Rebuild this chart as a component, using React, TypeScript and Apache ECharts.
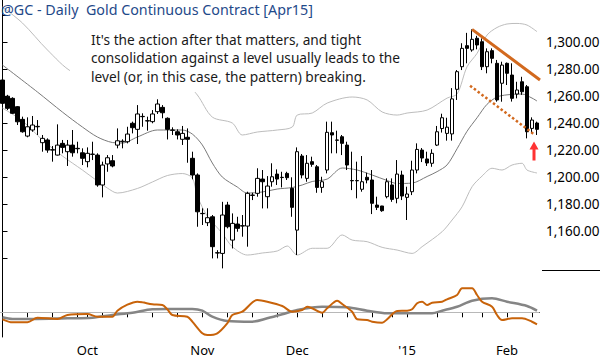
import { useEffect, useRef } from "react";
import * as echarts from "echarts";

// ---- trading days (categories) ----
const sepDays = [8, 9, 10, 11, 12, 15, 16, 17, 18, 19, 22, 23, 24, 25, 26, 29, 30];
const octDays = [1, 2, 3, 6, 7, 8, 9, 10, 13, 14, 15, 16, 17, 20, 21, 22, 23, 24, 27, 28, 29, 30, 31];
const novDays = [3, 4, 5, 6, 7, 10, 11, 12, 13, 14, 17, 18, 19, 20, 21, 24, 25, 26, 28];
const decDays = [1, 2, 3, 4, 5, 8, 9, 10, 11, 12, 15, 16, 17, 18, 19, 22, 23, 24, 26, 29, 30, 31];
const janDays = [2, 5, 6, 7, 8, 9, 12, 13, 14, 15, 16, 20, 21, 22, 23, 26, 27, 28, 29, 30];
const febDays = [2, 3, 4, 5, 6, 9, 10];
const monthDays: [string, number[]][] = [
  ["2014-09", sepDays],
  ["2014-10", octDays],
  ["2014-11", novDays],
  ["2014-12", decDays],
  ["2015-01", janDays],
  ["2015-02", febDays],
];
const dates: string[] = monthDays.flatMap(([m, ds]) =>
  ds.map((d) => `${m}-${String(d).padStart(2, "0")}`)
);

// x-axis labels (first trading day of month) and weekly tick marks
const monthLabels: Record<string, string> = {
  "2014-10-01": "Oct",
  "2014-11-03": "Nov",
  "2014-12-01": "Dec",
  "2015-01-02": "'15",
  "2015-02-02": "Feb",
};
const weekTickDates = [
  "2014-09-08", "2014-09-15", "2014-09-22", "2014-09-29", "2014-10-06", "2014-10-13",
  "2014-10-20", "2014-10-27", "2014-11-03", "2014-11-10", "2014-11-17", "2014-11-24",
  "2014-12-01", "2014-12-08", "2014-12-15", "2014-12-22", "2014-12-29", "2015-01-12",
  "2015-01-20", "2015-01-26", "2015-02-02", "2015-02-09",
];

// price axis: visible range and labels that are not printed
const priceMin = 1132.4;
const priceMax = 1331.4;
const priceStep = 20;
const hiddenPriceLabels = [1140, 1320];

// ---- OHLC: [open, close, low, high] ----
const ohlc: number[][] = [
  [1272, 1254.7, 1253, 1274],
  [1260, 1251, 1249.7, 1261],
  [1258.4, 1247.3, 1246.8, 1259.2],
  [1252.2, 1241, 1238.6, 1252.7],
  [1242.8, 1233.6, 1232.9, 1244.8],
  [1230.4, 1237.3, 1229.5, 1244.3],
  [1234.9, 1238.6, 1233.6, 1245.3],
  [1237.3, 1237.6, 1231.2, 1242.3],
  [1225.5, 1228.7, 1218.8, 1231.2],
  [1227.5, 1220, 1218, 1228.7],
  [1220, 1220.3, 1211.4, 1223],
  [1216.3, 1223.7, 1216, 1239.1],
  [1225, 1222, 1217.6, 1227.5],
  [1218.8, 1223.7, 1208.2, 1227.5],
  [1223.7, 1218, 1215.1, 1234.9],
  [1221.3, 1221, 1217.6, 1226.2],
  [1218, 1213.9, 1208.9, 1221.3],
  [1211.4, 1217.6, 1207.2, 1222],
  [1216.8, 1217, 1212.6, 1226.2],
  [1216.3, 1194.1, 1192.8, 1217.6],
  [1194.1, 1208.9, 1184.9, 1211.4],
  [1209.7, 1214.3, 1203.9, 1216.3],
  [1212.1, 1208.2, 1207.2, 1216.3],
  [1223.7, 1226.9, 1221.3, 1236.1],
  [1226.2, 1226.6, 1221.3, 1228],
  [1226.2, 1231.9, 1225, 1237.3],
  [1239.9, 1236.6, 1232.4, 1241.1],
  [1235.4, 1246.8, 1224.5, 1253.4],
  [1244.8, 1245, 1237.3, 1247.3],
  [1241.8, 1241.6, 1234.4, 1244.8],
  [1241.1, 1246.8, 1239.9, 1249.7],
  [1248.5, 1254.2, 1246.8, 1257.7],
  [1251.7, 1247.7, 1243.6, 1253.4],
  [1243.6, 1235.4, 1227.9, 1244.3],
  [1234.9, 1234.7, 1231.2, 1236.9],
  [1233.6, 1231.2, 1227.9, 1235.4],
  [1228, 1232.4, 1223.8, 1237.9],
  [1229.5, 1228, 1210.6, 1236.1],
  [1213.9, 1201.5, 1198.3, 1218.8],
  [1201.5, 1174.2, 1163.1, 1202.7],
  [1173, 1172.8, 1164.4, 1176.8],
  [1166.1, 1169.8, 1163.6, 1176.8],
  [1170.5, 1148.3, 1139.6, 1171.8],
  [1143.8, 1143.6, 1139.6, 1145.7],
  [1143.3, 1171.8, 1132.2, 1181.6],
  [1179.2, 1163.1, 1161.9, 1181.6],
  [1153.2, 1165.6, 1147, 1173],
  [1165.1, 1161.9, 1159.4, 1170.5],
  [1163.6, 1163.9, 1155.7, 1171.8],
  [1163.6, 1187.9, 1148.3, 1189.1],
  [1186.6, 1186.4, 1182.9, 1188.3],
  [1187.9, 1199, 1185.4, 1206.5],
  [1198.5, 1196.5, 1176.7, 1205.2],
  [1185.4, 1193.3, 1176.7, 1200.7],
  [1196.5, 1200.2, 1192.8, 1210.2],
  [1202.2, 1198.5, 1194.1, 1205.7],
  [1199.8, 1199.6, 1192.3, 1203.9],
  [1202.7, 1199.5, 1197.8, 1203.9],
  [1191.6, 1177.5, 1170.5, 1199.8],
  [1160.6, 1218.8, 1142.1, 1222],
  [1215.6, 1201.5, 1199, 1217.1],
  [1199, 1210.2, 1196.5, 1216.3],
  [1211.4, 1209.4, 1207.6, 1215.1],
  [1207.6, 1192.3, 1188.3, 1208.9],
  [1192.3, 1196.5, 1188.3, 1200.2],
  [1205.2, 1233.2, 1202.7, 1241.1],
  [1232.9, 1231.2, 1217.6, 1241.1],
  [1227.5, 1227.3, 1217.6, 1234.4],
  [1229.9, 1225, 1216.3, 1231.2],
  [1223.7, 1208.9, 1205.2, 1226.2],
  [1197.4, 1197.2, 1190.3, 1218.8],
  [1197.2, 1197.4, 1184.2, 1211.4],
  [1190.9, 1196.5, 1189.1, 1215.6],
  [1199.8, 1197.8, 1195.3, 1203.2],
  [1197.8, 1180.5, 1172.5, 1205.2],
  [1179.2, 1177.5, 1175.5, 1185.4],
  [1178.5, 1175, 1174.2, 1178.6],
  [1185.4, 1196.5, 1184.2, 1199],
  [1194.1, 1183.4, 1181.6, 1199],
  [1184.2, 1202.2, 1180.5, 1212.6],
  [1201.5, 1185.9, 1182.9, 1204.7],
  [1184.9, 1187.4, 1168.1, 1192.8],
  [1189.1, 1205.2, 1186.6, 1212.1],
  [1205.2, 1220.5, 1202.7, 1225],
  [1220, 1214.1, 1211.1, 1221.5],
  [1213.4, 1210.4, 1208.2, 1218.8],
  [1210.2, 1217.6, 1207.6, 1220.6],
  [1223.7, 1233.6, 1223, 1237.9],
  [1236, 1244, 1233, 1247],
  [1232.4, 1237, 1227, 1244],
  [1232, 1258, 1227, 1266],
  [1265.1, 1278.2, 1257.2, 1279.4],
  [1281.9, 1295.5, 1279.4, 1299.3],
  [1297.5, 1295.5, 1284.4, 1307],
  [1294.3, 1302.2, 1293, 1309.6],
  [1303, 1298, 1294.8, 1304.8],
  [1300.4, 1281.9, 1279.4, 1302.9],
  [1281.9, 1293, 1277, 1295.5],
  [1293.8, 1288.1, 1284.4, 1295.5],
  [1284.4, 1257.2, 1255.9, 1286.9],
  [1269.6, 1283.1, 1255.9, 1285.6],
  [1284.4, 1277, 1268.3, 1285],
  [1275.7, 1258.4, 1256, 1284.4],
  [1261.6, 1264.6, 1258.4, 1270.7],
  [1270.7, 1263.3, 1261, 1274.4],
  [1267, 1233.6, 1228.7, 1268.3],
  [1236.1, 1242.3, 1232.4, 1244.3],
  [1240.1, 1235.4, 1231.2, 1241.1],
];

// ---- bands & average: [barIndex, price] read at points ----
const upperBand: number[][] = [
  [0, 1326.2], [4, 1314.3], [9, 1294.3], [14, 1277.9], [22, 1269], [30, 1269], [37, 1267.6],
  [39, 1260.9], [42, 1244.5], [46, 1240.1], [48, 1231.2], [51, 1233.4], [55, 1234.9],
  [58, 1237.1], [59, 1246], [62, 1247.5], [65, 1254.9], [70, 1259.4], [73, 1257.2],
  [76, 1248.3], [79, 1246], [81, 1247.5], [85, 1249.7], [89, 1258.6], [91, 1261.6],
  [93, 1281.9], [95, 1291.8], [97, 1305.4], [99, 1311], [101, 1313.6], [103, 1314],
  [105, 1312.8], [107, 1307.9],
];
const middleAvg: number[][] = [
  [0, 1283.1], [7, 1263.1], [12, 1248.2], [16, 1237.1], [19, 1229.7], [22, 1225.6],
  [24, 1225.2], [27, 1229.7], [31, 1234.9], [36, 1234.9], [38, 1231.9], [40, 1223.8],
  [42, 1210.4], [44, 1200], [47, 1192.6], [49, 1188.1], [52, 1188.9], [55, 1191.1],
  [58, 1192.2], [60, 1194.1], [62, 1196.7], [65, 1198.5], [68, 1206.7], [71, 1205.2],
  [74, 1201.5], [77, 1197.4], [79, 1195.2], [82, 1195.5], [85, 1200.4], [87, 1204],
  [89, 1209], [91, 1221], [93, 1234], [95, 1244], [97, 1254], [99, 1259.4], [101, 1261],
  [104, 1261.6], [106, 1258.6], [107, 1256.4],
];
const lowerBand: number[][] = [
  [0, 1251.2], [4, 1241.6], [8, 1227.5], [12, 1215.6], [16, 1205.2], [19, 1197],
  [21, 1191.8], [23, 1188.1], [27, 1191.5], [30, 1196.3], [33, 1201.1], [36, 1202.6],
  [38, 1199.3], [39, 1185.9], [41, 1171], [44, 1158.2], [46, 1148.3], [49, 1142.1],
  [52, 1143.6], [55, 1145.1], [57, 1148.8], [59, 1142.1], [62, 1147.1], [65, 1147.1],
  [68, 1157], [70, 1153.2], [73, 1152], [76, 1147.8], [79, 1145.8], [82, 1143.3],
  [84, 1148.3], [88, 1159.4], [90, 1168.1], [92, 1177.9], [94, 1192.8], [96, 1200.7],
  [98, 1206.5], [100, 1205.2], [102, 1208.9], [104, 1210.2], [105, 1205.2], [107, 1203],
];

// ---- drawn trend lines and arrow ----
const trendHigh: number[][] = [[94.0, 1309.6], [107.6, 1272.0]];
const trendLow: number[][] = [[93.6, 1267.8], [106.6, 1231.2]];
const arrowPoint: number[][] = [[106.4, 1219.4]];

// ---- lower oscillator panel ----
const oscFast: number[][] = [
  [0, -7], [2, -10], [5, -10], [7, -5.4], [11, -6.7], [13, -2.7], [17, -1.7], [19, -4.4],
  [22, -4.4], [23, 1.6], [25, 7.6], [27, 10.6], [28, 10], [30, 8], [32, 7.3], [33, 3],
  [34, -2.7], [37, -4.4], [38, -9.4], [40, -21], [41, -22.7], [43, -21], [45, -11],
  [46, -2.7], [48, 0.6], [51, 12.3], [53, 10.6], [56, 6.3], [58, 0.6], [60, 2.3], [61, 5.6],
  [62, 4], [64, -0.4], [65, 4], [67, 11.6], [68, 8.3], [70, 0.6], [71, -7], [73, -7.7],
  [74, -9.4], [76, -10.4], [77, -7], [79, 1.3], [81, 1.6], [82, 3], [83, 9], [84, 10.6],
  [85, 7.3], [86, 9.6], [88, 10.6], [89, 13], [91, 17.3], [92, 24], [94, 24], [95, 17.3],
  [96, 10.6], [98, 5.6], [99, -2.7], [100, -7.7], [102, -6], [104, -6], [106, -9.4], [107, -12],
];
const oscSlow: number[][] = [
  [0, -5], [2, -6.7], [6, -6.7], [13, -6], [18, -5.4], [22, -2.7], [26, -0.4], [30, 3],
  [33, 3.3], [38, 3.3], [40, 1.6], [42, -4.4], [45, -8.7], [50, -9.4], [53, -6], [56, -2],
  [59, 2.3], [64, 5.6], [69, 5], [73, 1.6], [77, -1], [86, -1], [88, 1.6], [91, 5.6],
  [94, 11.6], [98, 14], [101, 10.6], [105, 6.3], [107, 1.6],
];

const titleText = "@GC - Daily  Gold Continuous Contract [Apr15]";
const noteLines = [
  "It's the action after that matters, and tight",
  "consolidation against a level usually leads to the",
  "level (or, in this case, the pattern) breaking.",
];

const FONT = '"Noto Sans", sans-serif';

export default function App() {
  const ref = useRef<HTMLDivElement>(null);
  useEffect(() => {
    document.body.style.margin = "0";
    if (!ref.current) return;
    const chart = echarts.init(ref.current, undefined, { renderer: "svg" });
    const tickSet = new Set(
      dates.map((d, i) => (weekTickDates.includes(d) || monthLabels[d] ? i : -1)).filter((i) => i >= 0)
    );
    const labelSet = new Set(dates.map((d, i) => (monthLabels[d] ? i : -1)).filter((i) => i >= 0));
    const lastIdx = dates.length - 0.5;

    const option: any = {
      animation: false,
      backgroundColor: "#ffffff",
      grid: [
        { left: 0, top: 0, width: 539.5, height: 268.1, outerBoundsMode: "none" },
        { left: 0, top: 268, width: 539.5, height: 69, outerBoundsMode: "none" },
      ],
      xAxis: [
        { type: "category", gridIndex: 0, data: dates, show: false },
        {
          type: "category",
          gridIndex: 1,
          data: dates,
          axisLine: { show: true, lineStyle: { color: "#000", width: 1 } },
          axisTick: {
            show: true,
            alignWithLabel: true,
            length: 5,
            interval: (i: number) => tickSet.has(i),
            lineStyle: { color: "#000" },
          },
          axisLabel: {
            interval: (i: number) => labelSet.has(i),
            formatter: (v: string) => monthLabels[v] || "",
            color: "#000",
            fontFamily: FONT,
            fontSize: 13,
            margin: 6,
          },
          splitLine: { show: false },
        },
        { type: "value", gridIndex: 0, min: -0.5, max: lastIdx, show: false },
        { type: "value", gridIndex: 1, min: -0.5, max: lastIdx, show: false },
      ],
      yAxis: [
        {
          type: "value",
          gridIndex: 0,
          position: "right",
          offset: 2.5,
          min: priceMin,
          max: priceMax,
          splitNumber: 10,
          axisLine: { show: true, lineStyle: { color: "#000" } },
          axisTick: { show: true, length: 5, lineStyle: { color: "#000" } },
          axisLabel: {
            showMinLabel: false,
            showMaxLabel: false,
            formatter: (v: number) =>
              Math.abs(v % priceStep) > 0.01 || hiddenPriceLabels.includes(v)
                ? ""
                : v.toLocaleString("en-US", { minimumFractionDigits: 2, maximumFractionDigits: 2 }),
            color: "#000",
            fontFamily: FONT,
            fontSize: 13.5,
            margin: 4,
          },
          splitLine: { show: false },
        },
        {
          type: "value",
          gridIndex: 1,
          position: "right",
          offset: 2.5,
          min: -24.7,
          max: 44.3,
          axisLine: { show: true, lineStyle: { color: "#000" } },
          axisTick: { show: false },
          axisLabel: { show: false },
          splitLine: { show: false },
        },
      ],
      series: [
        {
          type: "line",
          xAxisIndex: 2,
          yAxisIndex: 0,
          data: upperBand,
          symbol: "none",
          smooth: 0.3,
          lineStyle: { color: "#bdbdbd", width: 1 },
          silent: true,
          z: 2,
        },
        {
          type: "line",
          xAxisIndex: 2,
          yAxisIndex: 0,
          data: lowerBand,
          symbol: "none",
          smooth: 0.3,
          lineStyle: { color: "#bdbdbd", width: 1 },
          silent: true,
          z: 2,
        },
        {
          type: "line",
          xAxisIndex: 2,
          yAxisIndex: 0,
          data: middleAvg,
          symbol: "none",
          smooth: 0.3,
          lineStyle: { color: "#7a7a7a", width: 1 },
          silent: true,
          z: 2,
        },
        {
          type: "candlestick",
          xAxisIndex: 0,
          yAxisIndex: 0,
          data: ohlc,
          barWidth: 4,
          itemStyle: {
            color: "#ffffff",
            color0: "#000000",
            borderColor: "#000000",
            borderColor0: "#000000",
            borderWidth: 1,
          },
          silent: true,
          z: 4,
        },
        {
          type: "line",
          xAxisIndex: 2,
          yAxisIndex: 0,
          data: trendHigh,
          symbol: "none",
          clip: false,
          lineStyle: { color: "#d2691e", width: 3 },
          silent: true,
          z: 6,
        },
        {
          type: "line",
          xAxisIndex: 2,
          yAxisIndex: 0,
          data: trendLow,
          symbol: "none",
          clip: false,
          lineStyle: { color: "#d2691e", width: 2.5, type: [2.5, 2.3] },
          silent: true,
          z: 6,
        },
        {
          type: "scatter",
          xAxisIndex: 2,
          yAxisIndex: 0,
          data: arrowPoint,
          symbol: "path://M4.5 0 L9 8 L6 8 L6 19 L3 19 L3 8 L0 8 Z",
          symbolSize: [9, 19],
          itemStyle: { color: "#ff0000" },
          silent: true,
          z: 7,
        },
        {
          type: "line",
          xAxisIndex: 3,
          yAxisIndex: 1,
          data: oscSlow,
          symbol: "none",
          smooth: 0.3,
          lineStyle: { color: "#858585", width: 2.5 },
          silent: true,
          z: 3,
          markLine: {
            silent: true,
            symbol: ["none", "none"],
            label: { show: false },
            lineStyle: { color: "#b8b8b8", width: 1, type: "solid" },
            data: [{ yAxis: 0 }],
            z: 1,
          },
        },
        {
          type: "line",
          xAxisIndex: 3,
          yAxisIndex: 1,
          data: oscFast,
          symbol: "none",
          smooth: 0.3,
          lineStyle: { color: "#c8630a", width: 2 },
          silent: true,
          z: 4,
        },
      ],
      graphic: [
        {
          type: "rect",
          shape: { x: 70, y: 26, width: 336, height: 66 },
          style: { fill: "#ffffff" },
          silent: true,
          z: 100,
        },
        {
          type: "line",
          shape: { x1: 542, y1: 270.5, x2: 600, y2: 270.5 },
          style: { stroke: "#000", lineWidth: 1 },
          silent: true,
          z: 101,
        },
        {
          type: "text",
          x: 91,
          y: 30,
          style: {
            text: noteLines.join("\n"),
            fill: "#1a1a1a",
            fontFamily: FONT,
            fontSize: 13.7,
            lineHeight: 18.5,
            verticalAlign: "top",
          },
          silent: true,
          z: 102,
        },
        {
          type: "text",
          x: 1,
          y: 2,
          style: {
            text: titleText,
            fill: "#1f4a8a",
            fontFamily: FONT,
            fontSize: 14.3,
            verticalAlign: "top",
          },
          silent: true,
          z: 102,
        },
      ],
    };
    chart.setOption(option);
    return () => chart.dispose();
  }, []);
  return <div ref={ref} style={{ width: 600, height: 360 }} />;
}
